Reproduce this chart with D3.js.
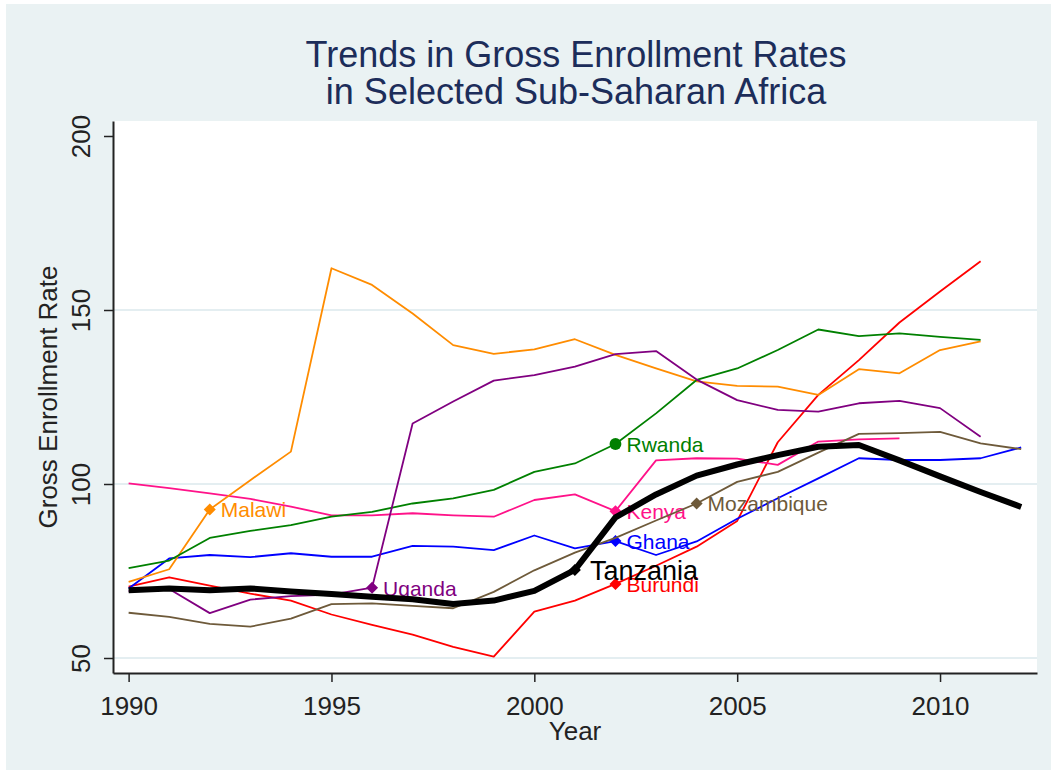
<!DOCTYPE html>
<html>
<head>
<meta charset="utf-8">
<script src="https://cdn.jsdelivr.net/npm/d3@7"></script>
<style>
  body { margin: 0; background: #fff; }
  text { font-family: "Liberation Sans", Arial, sans-serif; }
</style>
</head>
<body>
<div id="chart"></div>
<script>
// data (gross enrollment rate, null = no data)
var years = [1990, 1991, 1992, 1993, 1994, 1995, 1996, 1997, 1998, 1999, 2000,
             2001, 2002, 2003, 2004, 2005, 2006, 2007, 2008, 2009, 2010, 2011, 2012];

var burundi    = [70.5, 73.2, 70.8, 68.5, 66.5, 62.5, 59.5, 56.7, 53.2, 50.4, 63.3,
                  66.5, 71.3, 76.5, 82.0, 89.4, 112.0, 125.6, 135.6, 146.4, 155.3, 164.0, null];
var ghana      = [70.0, 78.6, 79.6, 79.0, 80.1, 79.1, 79.1, 82.2, 82.0, 81.0, 85.2,
                  81.5, 83.6, 79.6, 83.5, 90.0, 95.9, 101.6, 107.4, 106.9, 106.9, 107.4, 110.5];
var kenya      = [100.2, 98.8, 97.3, 95.7, 93.5, 91.0, 91.0, 91.6, 91.0, 90.6, 95.4,
                  97.0, 92.2, 106.8, 107.4, 107.3, 105.5, 112.2, 112.8, 113.1, null, null, null];
var malawi     = [71.9, 75.5, 92.7, 101.1, 109.3, 162.0, 157.2, 149.0, 139.9, 137.4, 138.7,
                  141.6, 137.1, 133.2, 129.5, 128.2, 128.0, 125.6, 133.0, 131.8, 138.5, 141.0, null];
var mozambique = [63.0, 61.8, 59.8, 59.0, 61.3, 65.5, 65.7, 65.0, 64.3, 69.0, 75.2,
                  80.3, 84.5, 89.5, 94.4, 100.6, 103.5, 109.0, 114.4, 114.6, 115.0, 111.7, 110.0];
var rwanda     = [75.8, 78.0, 84.5, 86.5, 88.2, 90.6, 92.0, 94.4, 95.9, 98.3, 103.5,
                  105.9, 111.5, 120.3, 129.9, 133.2, 138.5, 144.4, 142.5, 143.3, 142.3, 141.4, null];
var uganda     = [69.2, 69.8, 62.9, 66.8, 67.8, 68.2, 70.2, 117.4, 123.7, 129.7, 131.3,
                  133.7, 137.3, 138.2, 130.0, 124.1, 121.3, 120.8, 123.2, 123.9, 121.8, 113.6, null];
var tanzania   = [69.5, 70.0, 69.5, 70.0, 69.1, 68.4, 67.6, 66.9, 65.5, 66.5, 69.3,
                  75.3, 90.4, 97.0, 102.4, 105.6, 108.3, 110.7, 111.2, 106.8, 102.2, 97.7, 93.4];

var countries  = ["Burundi", "Ghana", "Kenya", "Malawi", "Mozambique", "Rwanda", "Uganda", "Tanzania"];
var seriesVals = [burundi, ghana, kenya, malawi, mozambique, rwanda, uganda, tanzania];
var labelYears = [2002, 2002, 2002, 1992, 2004, 2002, 1996, 2001];
var colors     = ["#ff0000", "#0000ff", "#ff1289", "#ff8c00", "#6e5a3a", "#008000", "#800080", "#000000"];

var yTicks = [50, 100, 150, 200];
var xTicks = [1990, 1995, 2000, 2005, 2010];

function drawChart() {
  var width = 1057, height = 774;
  var plotL = 113, plotR = 1037, plotT = 121, plotB = 673;

  var svg = d3.select("#chart").append("svg")
      .attr("width", width)
      .attr("height", height);

  // stata-ish background
  svg.append("rect")
      .attr("x", 6).attr("y", 4)
      .attr("width", width - 12).attr("height", height - 8)
      .attr("fill", "#eaf2f3");
  svg.append("rect")
      .attr("x", plotL).attr("y", plotT)
      .attr("width", plotR - plotL).attr("height", plotB - plotT)
      .attr("fill", "#fff");

  var x = d3.scaleLinear().domain([1989.615, 2012.39]).range([plotL, plotR]);
  var y = d3.scaleLinear().domain([45.69, 204.31]).range([plotB, plotT]);

  // gridlines
  svg.append("g")
    .selectAll("line")
    .data(yTicks.filter(d => d < 200))
    .join("line")
      .attr("x1", plotL).attr("x2", plotR)
      .attr("y1", d => y(d)).attr("y2", d => y(d))
      .attr("stroke", "#dbe9ec")
      .attr("stroke-width", 1.5);

  // title
  var title = svg.append("text")
      .attr("text-anchor", "middle")
      .attr("fill", "#1c2d5a")
      .style("font-size", "36px");
  title.append("tspan").attr("x", 576).attr("y", 67).text("Trends in Gross Enrollment Rates");
  title.append("tspan").attr("x", 576).attr("y", 104).text("in Selected Sub-Saharan Africa");

  // series
  var line = d3.line()
      .defined(d => d.v != null)
      .x(d => x(d.year))
      .y(d => y(d.v));

  var diamond = d3.symbol().type(d3.symbolSquare).size(72);
  var circle = d3.symbol().type(d3.symbolCircle).size(110);

  countries.forEach(function(name, i) {
    var pts = years.map((yr, j) => ({ year: yr, v: seriesVals[i][j] }));
    var isTz = name === "Tanzania";
    var g = svg.append("g");

    g.append("path")
        .datum(pts)
        .attr("fill", "none")
        .attr("stroke", colors[i])
        .attr("stroke-width", isTz ? 6 : 1.8)
        .attr("stroke-linejoin", "round")
        .attr("d", line);

    var lv = seriesVals[i][years.indexOf(labelYears[i])];
    var mx = x(labelYears[i]), my = y(lv);

    g.append("path")
        .attr("d", name === "Rwanda" ? circle() : diamond())
        .attr("transform", "translate(" + mx + "," + my + ")" + (name === "Rwanda" ? "" : " rotate(45)"))
        .attr("fill", colors[i]);

    g.append("text")
        .attr("x", mx + (isTz ? 15 : 11))
        .attr("y", my + (isTz ? 10 : 8))
        .attr("fill", colors[i])
        .style("font-size", isTz ? "27px" : "21px")
        .text(name);
  });

  // axes
  var yAxis = svg.append("g")
      .attr("transform", "translate(" + plotL + ",0)")
      .call(d3.axisLeft(y).tickValues(yTicks).tickSize(9).tickSizeOuter(0));
  yAxis.select(".domain").attr("stroke", "#222").attr("stroke-width", 2);
  yAxis.selectAll(".tick line").attr("stroke", "#222").attr("stroke-width", 1.5);
  yAxis.selectAll(".tick text")
      .attr("x", 0).attr("y", -23).attr("dy", null)
      .attr("text-anchor", "middle")
      .attr("transform", "rotate(-90)")
      .attr("fill", "#222")
      .style("font-size", "26px")
      .style("font-family", "'Liberation Sans', Arial, sans-serif");

  var xAxis = svg.append("g")
      .attr("transform", "translate(0," + plotB + ")")
      .call(d3.axisBottom(x).tickValues(xTicks).tickFormat(d3.format("d")).tickSize(9).tickSizeOuter(0));
  xAxis.select(".domain").attr("stroke", "#222").attr("stroke-width", 2);
  xAxis.selectAll(".tick line").attr("stroke", "#222").attr("stroke-width", 1.5);
  xAxis.selectAll(".tick text")
      .attr("y", 42).attr("dy", null)
      .attr("fill", "#222")
      .style("font-size", "26px")
      .style("font-family", "'Liberation Sans', Arial, sans-serif");

  // axis titles
  svg.append("text")
      .attr("transform", "translate(57," + (plotT + plotB) / 2 + ") rotate(-90)")
      .attr("text-anchor", "middle")
      .attr("fill", "#222")
      .style("font-size", "26px")
      .text("Gross Enrollment Rate");

  svg.append("text")
      .attr("x", (plotL + plotR) / 2)
      .attr("y", 740)
      .attr("text-anchor", "middle")
      .attr("fill", "#222")
      .style("font-size", "26px")
      .text("Year");
}

drawChart();
</script>
</body>
</html>
